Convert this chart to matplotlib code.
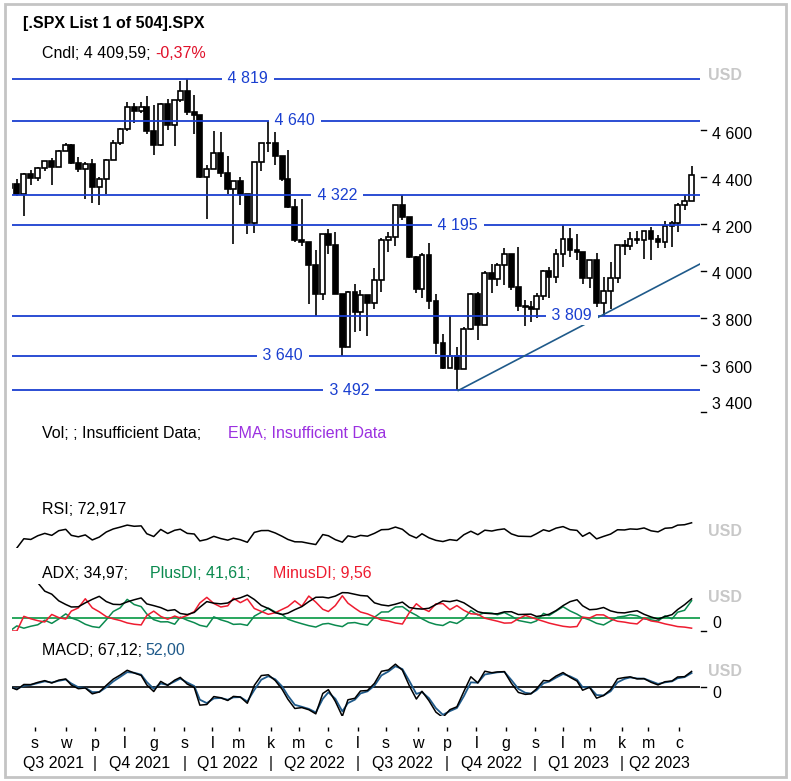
import numpy as np
import pandas as pd
import matplotlib
matplotlib.use("Agg")
import matplotlib.pyplot as plt
import matplotlib.transforms as mtransforms
from matplotlib.patches import Rectangle

plt.rcParams['font.family'] = ['Liberation Sans', 'DejaVu Sans']
plt.rcParams['font.size'] = 11.5

W, H = 791, 781

# weekly S&P 500 candles, week ending Friday
week_end = pd.date_range('2021-07-09', '2023-06-16', freq='W-FRI')
first_open = 4352
closes = [
    4370, 4327, 4412, 4395, 4437, 4468, 4442, 4509, 4535, 4458, 4433, 4455, 4357,
    4391, 4471, 4545, 4605, 4697, 4683, 4698, 4595, 4538, 4712, 4621, 4726, 4766,
    4677, 4663, 4398, 4432, 4501, 4419, 4349, 4385, 4329, 4204, 4463, 4543, 4546,
    4488, 4392, 4272, 4132, 4123, 4024, 3901, 4158, 4109, 3901, 3675, 3912, 3825,
    3899, 3863, 3962, 4130, 4145, 4280, 4228, 4058, 3924, 4067, 3873, 3693, 3586,
    3640, 3583, 3752, 3901, 3771, 3993, 3965, 4026, 4072, 3934, 3852, 3845, 3840,
    3895, 3999, 3973, 4071, 4136, 4090, 4079, 3970, 4046, 3862, 3917, 3971, 4109,
    4105, 4138, 4133, 4169, 4136, 4124, 4192, 4205, 4282, 4299, 4410,
]
highs = [
    4372, 4393, 4415, 4429, 4441, 4468, 4480, 4513, 4545, 4540, 4486, 4465, 4475,
    4400, 4475, 4559, 4608, 4718, 4714, 4718, 4743, 4705, 4713, 4732, 4727, 4808,
    4819, 4749, 4664, 4453, 4595, 4591, 4490, 4385, 4402, 4299, 4465, 4546, 4637,
    4593, 4471, 4513, 4308, 4308, 4081, 4090, 4158, 4178, 4168, 3837, 3913, 3946,
    3919, 3880, 4013, 4140, 4167, 4281, 4325, 4203, 4062, 4077, 4119, 3900, 3733,
    3807, 3677, 3762, 3906, 3912, 4001, 4028, 4034, 4100, 4052, 4101, 3877, 3872,
    3906, 4003, 4015, 4095, 4195, 4182, 4156, 4079, 4048, 4078, 3973, 4039, 4110,
    4133, 4164, 4169, 4170, 4186, 4154, 4213, 4212, 4290, 4322, 4448,
]
lows = [
    4321, 4321, 4233, 4364, 4385, 4425, 4367, 4441, 4513, 4456, 4420, 4305, 4288,
    4279, 4329, 4475, 4537, 4595, 4630, 4672, 4585, 4495, 4532, 4600, 4531, 4720,
    4662, 4582, 4395, 4223, 4432, 4401, 4327, 4115, 4279, 4157, 4161, 4424, 4506,
    4450, 4381, 4267, 4124, 4107, 3859, 3810, 3875, 4074, 3901, 3637, 3675, 3741,
    3743, 3722, 3838, 3911, 4079, 4107, 4218, 4057, 3907, 3886, 3837, 3647, 3584,
    3611, 3492, 3590, 3751, 3705, 3769, 3907, 3937, 3939, 3918, 3828, 3765, 3783,
    3802, 3878, 3886, 3949, 4017, 4060, 4048, 3944, 3928, 3847, 3809, 3839, 3949,
    4069, 4089, 4113, 4049, 4048, 4099, 4098, 4103, 4166, 4260, 4297,
]

levels = [4819, 4640, 4322, 4195, 3809, 3640, 3492]
level_label_px = [248, 295, 337, 458, 572, 283, 349]

trend_dates = ['2022-10-13', '2023-03-13']
trend_prices = [3491.58, 3808.86]

price_ticks = [4600, 4400, 4200, 4000, 3800, 3600, 3400]

month_letters = ['s', 'w', 'p', 'l', 'g', 's', 'l', 'm', 'k', 'm', 'c', 'l',
                 's', 'w', 'p', 'l', 'g', 's', 'l', 'm', 'k', 'm', 'c']
quarter_labels = ['Q3 2021', 'Q4 2021', 'Q1 2022', 'Q2 2022',
                  'Q3 2022', 'Q4 2022', 'Q1 2023', 'Q2 2023']

holidays = ['2021-07-05', '2021-09-06', '2021-11-25', '2021-12-24',
            '2022-01-17', '2022-02-21', '2022-04-15', '2022-05-30',
            '2022-06-20', '2022-07-04', '2022-09-05', '2022-11-24',
            '2022-12-26', '2023-01-02', '2023-01-16', '2023-02-20',
            '2023-04-07', '2023-05-29', '2023-06-19']

# --- trading day index ---
base = np.datetime64('2021-07-01')


def tday(dates):
    d = pd.to_datetime(dates).values.astype('datetime64[D]')
    return np.busday_count(base, d, holidays=holidays).astype(float)


x_pos = tday(week_end) - 2
month_pos = tday(pd.date_range('2021-08-01', '2023-06-01', freq='MS'))
quarter_pos = tday(pd.date_range('2021-10-01', '2023-04-01', freq='QS'))

k = (679 - 35) / (month_pos[-1] - month_pos[0])
x0 = month_pos[0] - (35 - 12) / k
x1 = month_pos[0] + (700 - 35) / k


def px2t(px):
    return x0 + (px - 12) / k


def box(xl, yt, xr, yb):
    return [xl / W, 1 - yb / H, (xr - xl) / W, (yb - yt) / H]


c = np.array(closes, float)
h = np.array(highs, float)
l = np.array(lows, float)
o = np.array([first_open] + closes[:-1], float)

# indicators from the weekly data
cs, hs, ls = pd.Series(c), pd.Series(h), pd.Series(l)
n = 5
d = cs.diff()
gain = d.clip(lower=0).ewm(alpha=1 / n, adjust=False).mean()
loss = (-d.clip(upper=0)).ewm(alpha=1 / n, adjust=False).mean()
rsi = 100 - 100 / (1 + gain / loss)

prev_c = cs.shift()
tr = pd.concat([hs - ls, (hs - prev_c).abs(), (ls - prev_c).abs()], axis=1).max(axis=1)
up_move = hs.diff()
down_move = -ls.diff()
plus_dm = pd.Series(np.where((up_move > down_move) & (up_move > 0), up_move, 0.0))
minus_dm = pd.Series(np.where((down_move > up_move) & (down_move > 0), down_move, 0.0))
atr = tr.ewm(alpha=1 / n, adjust=False).mean()
plus_di = 100 * plus_dm.ewm(alpha=1 / n, adjust=False).mean() / atr
minus_di = 100 * minus_dm.ewm(alpha=1 / n, adjust=False).mean() / atr
dx = 100 * (plus_di - minus_di).abs() / (plus_di + minus_di)
adx = dx.ewm(alpha=1 / n, adjust=False).mean()
adx[:4] = np.nan  # warm-up

macd = cs.ewm(span=12 / 5, adjust=False).mean() - cs.ewm(span=26 / 5, adjust=False).mean()
signal = macd.ewm(span=9 / 5, adjust=False).mean()

fig = plt.figure(figsize=(W / 100, H / 100), dpi=100)

# --- price panel ---
ax = fig.add_axes(box(12, 62, 700, 415))
ax.set_xlim(x0, x1)
ax.set_ylim(3387.2, 4889.4)
ax.axis('off')

up = c >= o
ax.vlines(x_pos, l, h, color='black', lw=1.2, zorder=2)
ax.bar(x_pos[up], (c - o)[up], bottom=o[up], width=3.4, facecolor='white',
       edgecolor='black', lw=1.2, zorder=3)
ax.bar(x_pos[~up], (o - c)[~up], bottom=c[~up], width=3.4, facecolor='black',
       edgecolor='black', lw=1.2, zorder=3)

blue = '#1a3fd0'
ax.hlines(levels, x0, x1, colors=blue, lw=1.3, zorder=4)
for lv, lx in zip(levels, level_label_px):
    ax.text(px2t(lx), lv, ' ' + f'{lv:,}'.replace(',', ' ') + ' ', color=blue,
            ha='center', va='center', zorder=5,
            bbox=dict(boxstyle='square,pad=0.1', fc='white', ec='none'))

t_tr = tday(trend_dates)
slope = (trend_prices[1] - trend_prices[0]) / (t_tr[1] - t_tr[0])
ax.plot([t_tr[0], x1], [trend_prices[0], trend_prices[0] + slope * (x1 - t_tr[0])],
        color='#1f5a8a', lw=1.2, zorder=4)

blend = mtransforms.blended_transform_factory(ax.transAxes, ax.transData)
for v in price_ticks:
    ax.plot([1 + 1 / 688, 1 + 6 / 688], [v, v], transform=blend, clip_on=False,
            color='black', lw=1)
    dy = 7 if v == price_ticks[-1] else -4
    ax.annotate(f'{v:,}'.replace(',', ' '), xy=(1, v), xycoords=blend,
                xytext=(12, dy), textcoords='offset pixels', va='center', ha='left')

# --- RSI panel ---
ax_rsi = fig.add_axes(box(12, 520, 700, 548))
ax_rsi.set_xlim(x0, x1)
ax_rsi.set_ylim(0, 100)
ax_rsi.axis('off')
ax_rsi.plot(x_pos, rsi, color='black', lw=1.1)

# --- ADX panel ---
ax_adx = fig.add_axes(box(12, 584, 700, 631))
ax_adx.set_xlim(x0, x1)
ax_adx.set_ylim(0, 70)
ax_adx.axis('off')
ax_adx.axhline(20, color='#18a050', lw=1.3)
ax_adx.plot(x_pos, plus_di, color='#0b8a4f', lw=1.1)
ax_adx.plot(x_pos, minus_di, color='#ee1c30', lw=1.1)
ax_adx.plot(x_pos, adx, color='black', lw=1.1)
b_adx = mtransforms.blended_transform_factory(ax_adx.transAxes, ax_adx.transData)
ax_adx.plot([1 + 1 / 688, 1 + 6 / 688], [0, 0], transform=b_adx, clip_on=False,
            color='black', lw=1)
ax_adx.annotate('0', xy=(1, 0), xycoords=b_adx, xytext=(12, 7),
                textcoords='offset pixels', va='center', ha='left')

# --- MACD panel ---
ax_macd = fig.add_axes(box(12, 660, 700, 716))
ax_macd.set_xlim(x0, x1)
ax_macd.set_ylim(-121, 112)
ax_macd.axis('off')
ax_macd.axhline(0, color='black', lw=1.2)
ax_macd.plot(x_pos, signal, color='#1f5a8a', lw=1.3)
ax_macd.plot(x_pos, macd, color='black', lw=1.1)
b_macd = mtransforms.blended_transform_factory(ax_macd.transAxes, ax_macd.transData)
ax_macd.plot([1 + 1 / 688, 1 + 6 / 688], [0, 0], transform=b_macd, clip_on=False,
             color='black', lw=1)
ax_macd.annotate('0', xy=(1, 0), xycoords=b_macd, xytext=(12, -7),
                 textcoords='offset pixels', va='center', ha='left')

# --- time axis ---
ax_t = fig.add_axes(box(12, 720, 700, 781))
ax_t.set_xlim(x0, x1)
ax_t.set_ylim(781, 720)
ax_t.axis('off')
ax_t.vlines(month_pos, 727, 731, color='black', lw=1)
for mp, ml in zip(month_pos, month_letters):
    ax_t.text(mp, 748, ml, ha='center', va='baseline')
q_edges = np.concatenate([[x0], quarter_pos, [x_pos[-1] + 4]])
for i, ql in enumerate(quarter_labels):
    ax_t.text((q_edges[i] + q_edges[i + 1]) / 2, 768, ql, ha='center', va='baseline')
for qp in quarter_pos:
    ax_t.text(qp, 768, '|', ha='center', va='baseline')

# --- overlay texts ---
ov = fig.add_axes([0, 0, 1, 1])
ov.set_xlim(0, W)
ov.set_ylim(H, 0)
ov.axis('off')
ov.add_patch(Rectangle((5, 4), 781, 773, fill=False, ec='#c4c4c4', lw=2))

ov.text(23, 28, '[.SPX List 1 of 504].SPX', fontweight='bold', va='baseline')
ov.text(42, 58, 'Cndl; 4 409,59;', va='baseline')
ov.text(155, 58, '-0,37%', color='#e0102a', va='baseline')
ov.text(42, 438, 'Vol; ; Insufficient Data;', va='baseline')
ov.text(228, 438, 'EMA; Insufficient Data', color='#9b30e0', va='baseline')
ov.text(42, 514, 'RSI; 72,917', va='baseline')
ov.text(42, 578, 'ADX; 34,97;', va='baseline')
ov.text(150, 578, 'PlusDI; 41,61;', color='#0b8a4f', va='baseline')
ov.text(273, 578, 'MinusDI; 9,56', color='#ee1c30', va='baseline')
ov.text(42, 655, 'MACD; 67,12;', va='baseline')
ov.text(145, 655, '52,00', color='#1f5a8a', va='baseline')
for uy in [75, 532, 597, 672]:
    ov.text(708, uy, 'USD', color='#c8c8c8', fontweight='bold', va='center')

fig.savefig('out.png', dpi=100)
